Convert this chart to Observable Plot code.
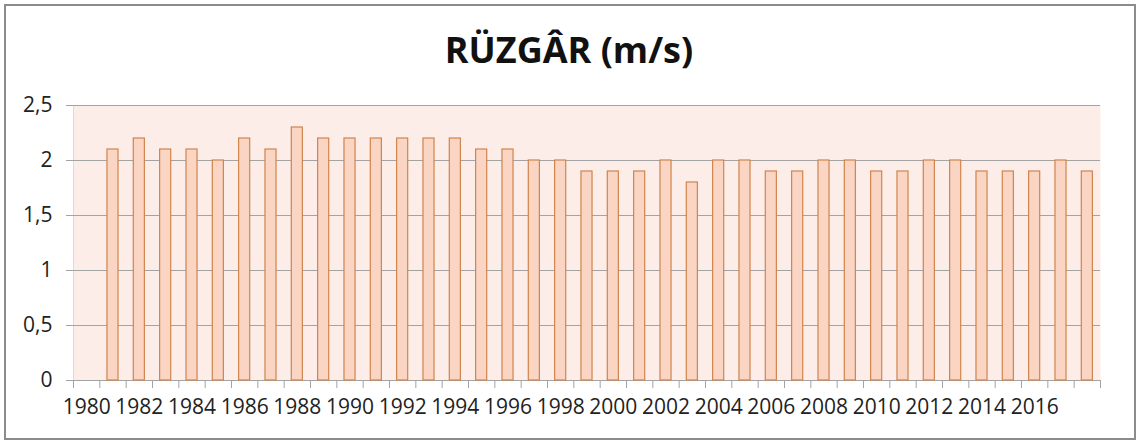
<!DOCTYPE html>
<html>
<head>
<meta charset="utf-8">
<script src="https://cdn.jsdelivr.net/npm/d3@7"></script>
<script src="https://cdn.jsdelivr.net/npm/@observablehq/plot@0.6"></script>
<style>
  html, body { margin: 0; padding: 0; background: #ffffff; }
  #wrap { position: relative; width: 1138px; height: 441px; overflow: hidden; font-family: "Open Sans", sans-serif; }
  #border { position: absolute; left: 4px; top: 4px; width: 1132px; height: 436px; box-sizing: border-box; border: 2px solid #8c8c8c; pointer-events: none; }
  #title { height: 90px; box-sizing: border-box; padding-top: 32px; font-family: "Open Sans", sans-serif; font-weight: 700; font-size: 36px; line-height: 36px; text-align: center; color: #111; }
  #chart svg { display: block; }
</style>
</head>
<body>
<div id="wrap">
  <div id="title"></div>
  <div id="chart"></div>
  <div id="border"></div>
</div>
<script>
const chartTitle = "RÜZGÂR (m/s)";
const years = [1980, 1981, 1982, 1983, 1984, 1985, 1986, 1987, 1988, 1989,
               1990, 1991, 1992, 1993, 1994, 1995, 1996, 1997, 1998, 1999,
               2000, 2001, 2002, 2003, 2004, 2005, 2006, 2007, 2008, 2009,
               2010, 2011, 2012, 2013, 2014, 2015, 2016, 2017, 2018];
const windSpeed = [null, 2.1, 2.2, 2.1, 2.1, 2.0, 2.2, 2.1, 2.3, 2.2,
                   2.2, 2.2, 2.2, 2.2, 2.2, 2.1, 2.1, 2.0, 2.0, 1.9,
                   1.9, 1.9, 2.0, 1.8, 2.0, 2.0, 1.9, 1.9, 2.0, 2.0,
                   1.9, 1.9, 2.0, 2.0, 1.9, 1.9, 1.9, 2.0, 1.9];
const yTicks = [0, 0.5, 1, 1.5, 2, 2.5];
const xTickLabels = [1980, 1982, 1984, 1986, 1988, 1990, 1992, 1994, 1996, 1998,
                     2000, 2002, 2004, 2006, 2008, 2010, 2012, 2014, 2016];

document.getElementById("title").textContent = chartTitle;

const W = 1138, H = 351, mL = 73, mR = 38, mT = 15, mB = 61;
const step = (W - mL - mR) / years.length;
const data = years.map((y, i) => ({year: y, value: windSpeed[i]}));
const bars = data.filter(d => d.value != null);
const gridColor = "#a3a3a3";

const plot = Plot.plot({
  width: W,
  height: H,
  marginLeft: mL,
  marginRight: mR,
  marginTop: mT,
  marginBottom: mB,
  style: {fontFamily: '"Open Sans", sans-serif', fontSize: "21px", color: "#222222", background: "transparent", overflow: "visible"},
  x: {type: "band", domain: years, paddingInner: 0.58, paddingOuter: 0.29, round: false, axis: null, label: null},
  y: {domain: [0, 2.5], axis: null, label: null},
  marks: [
    Plot.frame({fill: "#fcede8", stroke: null}),
    Plot.ruleX([years[0]], {dx: -step / 2, stroke: "#e2d8d4"}),
    Plot.ruleY(yTicks, {stroke: gridColor, strokeWidth: 1, insetLeft: -7}),
    Plot.barY(bars, {x: "year", y: "value", fill: "#fad5c3", stroke: "#d0844c", strokeWidth: 1.2}),
    Plot.ruleX(years, {x: d => d, y1: 0, y2: 0, insetBottom: -8, dx: -step / 2, stroke: gridColor}),
    Plot.ruleX([years[years.length - 1]], {x: d => d, y1: 0, y2: 0, insetBottom: -8, dx: step / 2, stroke: gridColor}),
    Plot.axisY({ticks: yTicks, tickSize: 0, tickPadding: 21, tickFormat: d => String(d).replace(".", ","), fontSize: 21, label: null}),
    Plot.axisX({ticks: xTickLabels, tickSize: 0, tickPadding: 19, tickFormat: d => String(d), fontSize: 21, label: null})
  ]
});
document.getElementById("chart").appendChild(plot);
</script>
</body>
</html>
